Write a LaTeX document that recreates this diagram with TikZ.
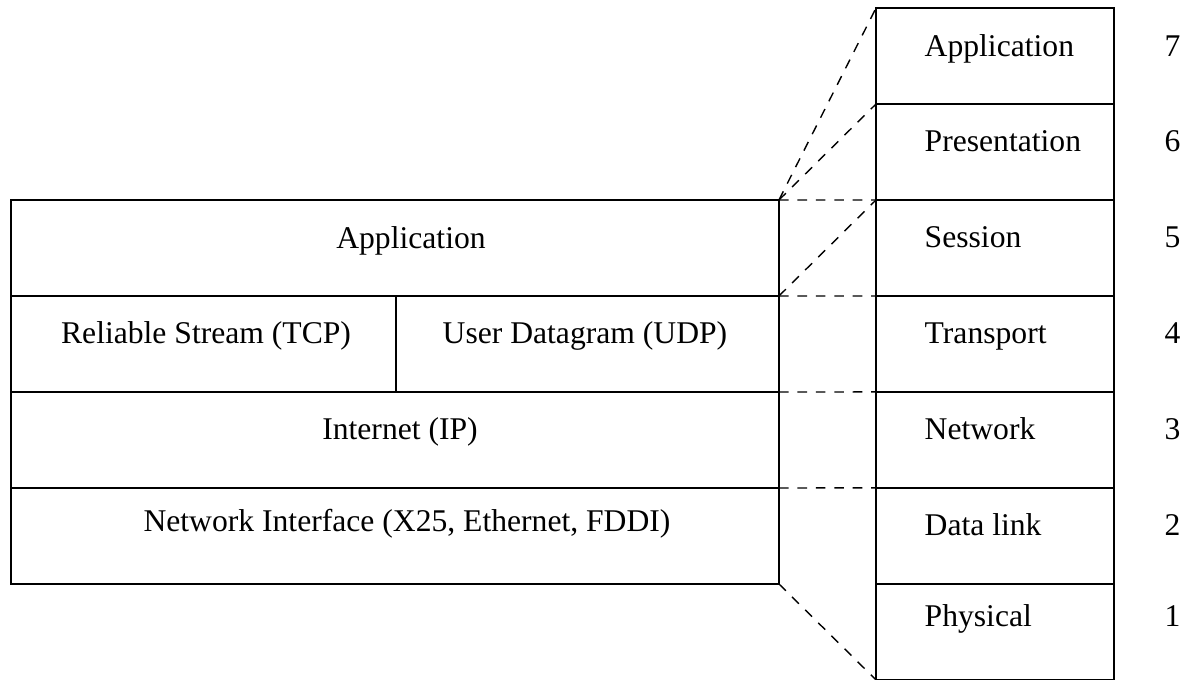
\documentclass[tikz,border=0pt]{standalone}
\usepackage{fontspec}
\setmainfont{Liberation Serif}
\usetikzlibrary{positioning}

\begin{document}
\begin{tikzpicture}
    [x=0.02cm, y=-0.02cm, line width=0.8pt,
     box/.style={draw, outer sep=0pt, inner sep=0pt, minimum height=1.92cm},
     wide/.style={box, minimum width=15.36cm},
     osi/.style={box, minimum width=4.76cm},
     txt/.style={inner sep=0pt, text height=0pt, text depth=0pt, font=\fontsize{18}{22}\selectfont},
     gap/.style={dash pattern=on 5.5pt off 5pt}]

    \useasboundingbox (0,0) rectangle (1185,680);
    \clip (0,0) rectangle (1185,679.4);

    % TCP/IP stack
    \node[wide] (app) at (395,248) {};
    \node[box, minimum width=7.7cm, below=0pt of app.south west, anchor=north west] (tcp) {};
    \node[box, minimum width=7.66cm, right=0pt of tcp] (udp) {};
    \node[wide, below=0pt of tcp.south west, anchor=north west] (ip) {};
    \node[wide, below=0pt of ip] (ni) {};

    \node[txt] (tapp) at ([xshift=0.32cm]app.center) {Application};
    \node[txt] (ttcp) at ([xshift=0.05cm]tcp.center) {Reliable Stream (TCP)};
    \node[txt] (tudp) at ([xshift=-0.05cm]udp.center) {User Datagram (UDP)};
    \node[txt] (tip) at ([xshift=0.1cm]ip.center) {Internet (IP)};
    \node[txt] (tni) at ([xshift=0.24cm, yshift=0.08cm]ni.center) {Network Interface (X25, Ethernet, FDDI)};

    % OSI stack
    \node[osi] (l7) at (995,56) {};
    \node[osi, below=0pt of l7] (l6) {};
    \node[osi, below=0pt of l6] (l5) {};
    \node[osi, below=0pt of l5] (l4) {};
    \node[osi, below=0pt of l4] (l3) {};
    \node[osi, below=0pt of l3] (l2) {};
    \node[osi, below=0pt of l2] (l1) {};

    \node[txt, right=0.96cm of l7.west] (t7) {Application};
    \node[txt, right=0.96cm of l6.west] (t6) {Presentation};
    \node[txt, right=0.96cm of l5.west] (t5) {Session};
    \node[txt, right=0.96cm of l4.west] (t4) {Transport};
    \node[txt, right=0.96cm of l3.west] (t3) {Network};
    \node[txt, right=0.96cm of l2.west] (t2) {Data link};
    \node[txt, right=0.96cm of l1.west, yshift=0.1cm] (t1) {Physical};

    \node[txt, right=1cm of l7.east] (n7) {7};
    \node[txt, right=1cm of l6.east] (n6) {6};
    \node[txt, right=1cm of l5.east] (n5) {5};
    \node[txt, right=1cm of l4.east] (n4) {4};
    \node[txt, right=1cm of l3.east] (n3) {3};
    \node[txt, right=1cm of l2.east] (n2) {2};
    \node[txt, right=1cm of l1.east, yshift=0.1cm] (n1) {1};

    % mapping between the two
    \draw[gap] (app.north east) -- (l7.north west);
    \draw[gap] (app.north east) -- (l6.north west);
    \draw[gap] (app.north east) -- (l5.north west);
    \draw[gap] (app.south east) -- (l5.north west);
    \draw[gap] (app.south east) -- (l4.north west);
    \draw[gap] (udp.south east) -- (l3.north west);
    \draw[gap] (ip.south east) -- (l2.north west);
    \draw[gap] (ni.south east) -- (l1.south west);
\end{tikzpicture}
\end{document}
